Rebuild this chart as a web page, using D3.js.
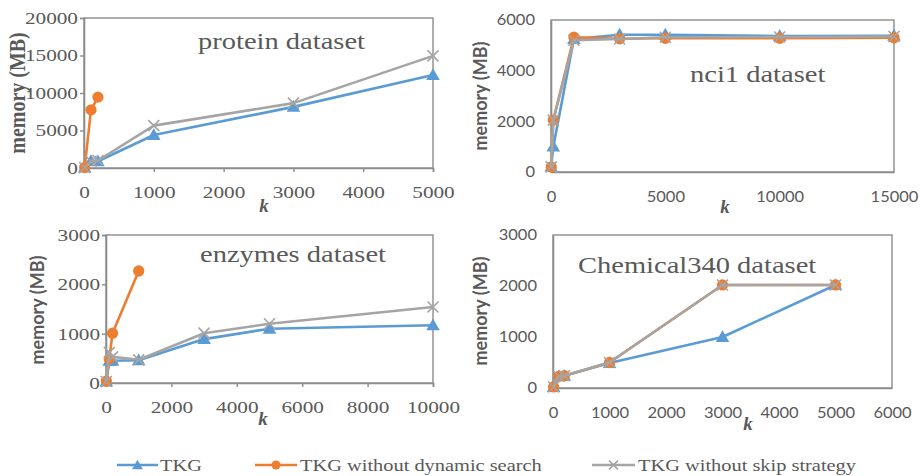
<!DOCTYPE html>
<html><head><meta charset="utf-8">
<script src="https://cdn.jsdelivr.net/npm/d3@7"></script>
<style>
html,body{margin:0;padding:0;background:#fff;}
svg{display:block;}
</style></head>
<body>
<svg id="chart" width="920" height="476"></svg>
<script>
// ---------- data ----------
const seriesNames = ["TKG", "TKG without dynamic search", "TKG without skip strategy"];

const proteinK       = [10, 100, 200, 1000, 3000, 5000];
const proteinTKG     = [50, 930, 900, 4400, 8150, 12400];
const proteinNoDynK  = [10, 100, 200];
const proteinNoDyn   = [60, 7750, 9450];
const proteinNoSkip  = [60, 900, 1000, 5650, 8650, 14950];
const proteinXTicks  = [0, 1000, 2000, 3000, 4000, 5000];
const proteinYTicks  = [0, 5000, 10000, 15000, 20000];

const nci1K          = [10, 100, 1000, 3000, 5000, 10000, 15000];
const nci1TKG        = [200, 1000, 5250, 5420, 5420, 5370, 5380];
const nci1NoDyn      = [200, 2050, 5320, 5260, 5280, 5280, 5300];
const nci1NoSkip     = [200, 2050, 5200, 5250, 5320, 5330, 5350];
const nci1XTicks     = [0, 5000, 10000, 15000];
const nci1YTicks     = [0, 2000, 4000, 6000];

const enzymesK       = [10, 100, 200, 1000, 3000, 5000, 10000];
const enzymesTKG     = [30, 450, 450, 460, 890, 1100, 1170];
const enzymesNoDynK  = [10, 100, 200, 1000];
const enzymesNoDyn   = [40, 490, 1010, 2270];
const enzymesNoSkip  = [30, 620, 530, 470, 1010, 1200, 1540];
const enzymesXTicks  = [0, 2000, 4000, 6000, 8000, 10000];
const enzymesYTicks  = [0, 1000, 2000, 3000];

const chemK          = [10, 100, 200, 1000, 3000, 5000];
const chemTKG        = [20, 230, 240, 490, 1000, 2020];
const chemNoDyn      = [20, 230, 240, 500, 2020, 2020];
const chemNoSkip     = [20, 230, 240, 500, 2020, 2020];
const chemXTicks     = [0, 1000, 2000, 3000, 4000, 5000, 6000];
const chemYTicks     = [0, 1000, 2000, 3000];

// ---------- styles ----------
const colors = ["#5B9BD5", "#ED7D31", "#A5A5A5"];
const SERIF = "'Liberation Serif', 'Times New Roman', serif";
const SANS = "Lato, 'Open Sans', sans-serif";
const textColor = "#595959";
const boxColor = "#8c8c8c";

const panels = [
  { title: "protein dataset", x0: 84, x1: 433, y0: 18, y1: 168, xMax: 5000, yMax: 20000,
    xTicks: proteinXTicks, yTicks: proteinYTicks, tickFont: SERIF, tickSize: 17, tickLen: 4,
    yLabFont: SERIF, yLabSize: 20, yLabX: 25, yLabY: 93,
    kX: 264, kY: 212, titleX: 198, titleY: 49,
    series: [ {k: proteinK, v: proteinTKG}, {k: proteinNoDynK, v: proteinNoDyn}, {k: proteinK, v: proteinNoSkip} ] },
  { title: "nci1 dataset", x0: 551, x1: 894, y0: 20, y1: 172, xMax: 15000, yMax: 6000,
    xTicks: nci1XTicks, yTicks: nci1YTicks, tickFont: SANS, tickSize: 15, tickLen: 0,
    yLabFont: SANS, yLabSize: 18, yLabX: 487, yLabY: 96,
    kX: 725, kY: 213, titleX: 690, titleY: 82,
    series: [ {k: nci1K, v: nci1TKG}, {k: nci1K, v: nci1NoDyn}, {k: nci1K, v: nci1NoSkip} ] },
  { title: "enzymes dataset", x0: 106, x1: 433, y0: 235, y1: 383, xMax: 10000, yMax: 3000,
    xTicks: enzymesXTicks, yTicks: enzymesYTicks, tickFont: SERIF, tickSize: 17, tickLen: 4,
    yLabFont: SANS, yLabSize: 18, yLabX: 44, yLabY: 310,
    kX: 263, kY: 425, titleX: 200, titleY: 262,
    series: [ {k: enzymesK, v: enzymesTKG}, {k: enzymesNoDynK, v: enzymesNoDyn}, {k: enzymesK, v: enzymesNoSkip} ] },
  { title: "Chemical340 dataset", x0: 553, x1: 892, y0: 235, y1: 388, xMax: 6000, yMax: 3000,
    xTicks: chemXTicks, yTicks: chemYTicks, tickFont: SANS, tickSize: 15, tickLen: 0,
    yLabFont: SANS, yLabSize: 18, yLabX: 487, yLabY: 311,
    kX: 748, kY: 430, titleX: 578, titleY: 273,
    series: [ {k: chemK, v: chemTKG}, {k: chemK, v: chemNoDyn}, {k: chemK, v: chemNoSkip} ] }
];

const svg = d3.select("#chart");
const SX = 1.24; // horizontal stretch of the original raster

function stretch(sel, s) {
  sel.each(function() {
    const t = d3.select(this);
    const x = +t.attr("x") || 0;
    const y = +t.attr("y") || 0;
    t.attr("x", 0).attr("y", 0).attr("transform", `translate(${x},${y}) scale(${s},1)`);
  });
}

const triangle = d3.symbol().type(d3.symbolTriangle);
const circle = d3.symbol().type(d3.symbolCircle);

function drawMarker(g, idx, x, y, scale) {
  const s = scale || 1;
  if (idx === 0) {
    g.append("path").attr("d", triangle.size(80 * s * s)())
      .attr("transform", `translate(${x},${y + 1})`).attr("fill", colors[0]);
  } else if (idx === 1) {
    g.append("path").attr("d", circle.size(100 * s * s)())
      .attr("transform", `translate(${x},${y})`).attr("fill", colors[1]);
  } else {
    const r = 5.5 * s;
    g.append("path").attr("d", `M${x - r},${y - r}L${x + r},${y + r}M${x - r},${y + r}L${x + r},${y - r}`)
      .attr("stroke", colors[2]).attr("stroke-width", 1.6).attr("fill", "none");
  }
}

panels.forEach(p => {
  const g = svg.append("g");
  const x = d3.scaleLinear().domain([0, p.xMax]).range([p.x0, p.x1]);
  const y = d3.scaleLinear().domain([0, p.yMax]).range([p.y1, p.y0]);

  // box
  g.append("rect").attr("x", p.x0).attr("y", p.y0).attr("width", p.x1 - p.x0).attr("height", p.y1 - p.y0)
    .attr("fill", "none").attr("stroke", boxColor).attr("stroke-width", 1.4);

  // axes
  const sansPanel = p.tickFont === SANS;
  const xAxis = d3.axisBottom(x).tickValues(p.xTicks).tickFormat(d3.format("d"))
    .tickSize(p.tickLen).tickPadding(sansPanel ? 19 : 14);
  const yAxis = d3.axisLeft(y).tickValues(p.yTicks).tickFormat(d3.format("d"))
    .tickSize(p.tickLen).tickPadding(sansPanel ? 16 : 2);
  const gx = g.append("g").attr("transform", `translate(0,${p.y1})`).call(xAxis);
  const gy = g.append("g").attr("transform", `translate(${p.x0},0)`).call(yAxis);
  [gx, gy].forEach(a => {
    a.attr("font-family", null).attr("font-size", null);
    a.select(".domain").attr("stroke", boxColor).attr("stroke-width", 1.6);
    a.selectAll(".tick line").attr("stroke", boxColor).attr("stroke-width", 1.4);
    a.selectAll(".tick text").attr("fill", textColor).style("font-family", p.tickFont)
      .style("font-size", p.tickSize + "px");
  });
  stretch(gx.selectAll(".tick text"), sansPanel ? 1.1 : 1.25);
  stretch(gy.selectAll(".tick text"), sansPanel ? 1.1 : 1.25);

  // y label
  g.append("text").text("memory (MB)")
    .attr("transform", `translate(${p.yLabX},${p.yLabY}) scale(${p.yLabFont === SANS ? 1.1 : 1.2},1) rotate(-90)`)
    .attr("text-anchor", "middle").style("font-family", p.yLabFont).attr("font-weight", "bold")
    .style("font-size", p.yLabSize + "px").attr("fill", textColor);

  // k label
  g.append("text").text("k").attr("x", p.kX).attr("y", p.kY).attr("text-anchor", "middle")
    .style("font-family", SERIF).attr("font-weight", "bold").attr("font-style", "italic")
    .style("font-size", "19px").attr("fill", textColor);

  // title
  g.append("text").text(p.title).attr("transform", `translate(${p.titleX},${p.titleY}) scale(${SX},1)`)
    .style("font-family", SERIF).style("font-size", "23px").attr("fill", textColor);

  // series
  const line = d3.line().x(d => x(d[0])).y(d => y(d[1]));
  p.series.forEach((s, i) => {
    const pts = s.k.map((k, j) => [k, s.v[j]]);
    g.append("path").datum(pts).attr("d", line).attr("fill", "none")
      .attr("stroke", colors[i]).attr("stroke-width", 2.6).attr("stroke-linejoin", "round");
    const mg = g.append("g");
    pts.forEach(d => drawMarker(mg, i, x(d[0]), y(d[1]), 1));
  });
});

// ---------- legend ----------
const legendY = 465;
const legendItems = [
  { x1: 117, x2: 158, tx: 160 },
  { x1: 255, x2: 297, tx: 300 },
  { x1: 592, x2: 635, tx: 638 }
];
const lg = svg.append("g");
seriesNames.forEach((name, i) => {
  const it = legendItems[i];
  lg.append("line").attr("x1", it.x1).attr("x2", it.x2).attr("y1", legendY).attr("y2", legendY)
    .attr("stroke", colors[i]).attr("stroke-width", 2.6);
  drawMarker(lg, i, (it.x1 + it.x2) / 2, legendY, 0.8);
  lg.append("text").text(name).attr("transform", `translate(${it.tx},${legendY + 6}) scale(1.2,1)`)
    .style("font-family", SERIF).style("font-size", "17px").attr("fill", textColor);
});
</script>
</body></html>
